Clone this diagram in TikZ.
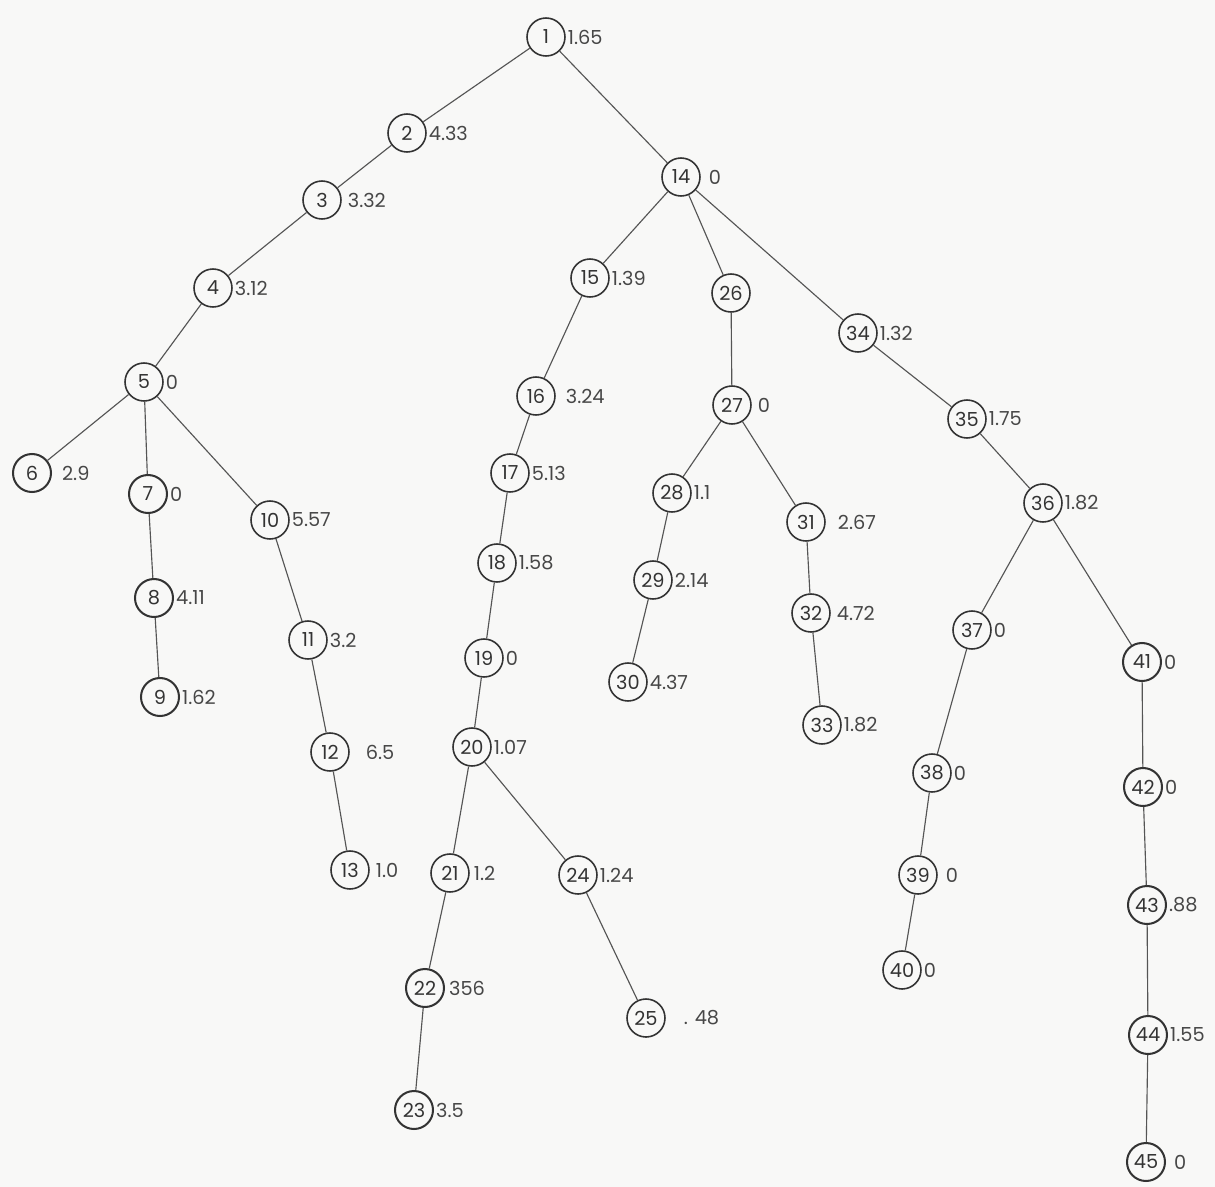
\documentclass[tikz,border=0pt]{standalone}
\usepackage{fontspec}
\setmainfont{Poppins}
\definecolor{ink}{HTML}{333333}
\definecolor{wire}{HTML}{555555}
\definecolor{paper}{HTML}{F8F8F7}
\begin{document}
\begin{tikzpicture}[x=0.02cm, y=-0.02cm,
  vertex/.style={circle, draw=ink, line width=0.9pt, minimum size=0.76cm, inner sep=0pt,
                 text=ink, font=\fontsize{11}{12}\selectfont},
  heavy/.style={line width=1.15pt},
  weight/.style={anchor=west, inner sep=1pt, text=ink!90, font=\fontsize{11}{12}\selectfont},
  edge/.style={draw=wire, line width=0.65pt}]
  \fill[paper] (0,0) rectangle (1215,1187);
  \useasboundingbox (0,0) rectangle (1215,1187);

  % vertices with their weights: number / x / y / weight / extra gap / outline
  \foreach \n/\x/\y/\w/\g/\s in {
      1/546/37/1.65/0/vertex, 2/407/133/4.33/0/vertex, 3/322/200/3.32/4/vertex,
      4/213/288/3.12/0/vertex, 5/144/382/0/0/vertex, 6/32/473/2.9/8/heavy,
      7/148/494/0/0/heavy, 8/154/598/4.11/0/heavy, 9/160/697/1.62/0/heavy,
      10/270/520/5.57/0/vertex, 11/308/640/3.2/0/vertex, 12/330/752/6.5/14/vertex,
      13/350/870/1.0/4/vertex, 14/681/177/0/6/vertex, 15/590/278/1.39/0/vertex,
      16/536/396/3.24/8/vertex, 17/510/473/5.13/0/vertex, 18/497/563/1.58/0/vertex,
      19/484/658/0/0/vertex, 20/472/747/1.07/0/vertex, 21/450/873/1.2/2/vertex,
      22/425/988/356/2/heavy, 23/414/1110/3.5/0/heavy, 24/578/875/1.24/0/vertex,
      25/646/1018/. 48/16/vertex, 27/732/405/0/4/vertex, 28/672/493/1.1/0/vertex,
      29/653/580/2.14/0/vertex, 30/628/682/4.37/0/vertex, 31/806/522/2.67/10/vertex,
      32/811/613/4.72/4/vertex, 33/822/725/1.82/0/vertex, 34/858/333/1.32/0/vertex,
      35/967/419/1.75/0/vertex, 36/1043/503/1.82/0/vertex, 37/972/630/0/0/vertex,
      38/932/773/0/0/vertex, 39/918/875/0/6/vertex, 40/902/970/0/0/vertex,
      41/1142/662/0/0/heavy, 42/1143/787/0/0/heavy, 43/1147/905/.88/0/heavy,
      44/1148/1035/1.55/0/heavy, 45/1146/1162/0/6/heavy}
  {
    \node[vertex, \s] (n\n) at (\x,\y) {\n};
    \node[weight, xshift=\g*0.02cm] (w\n) at (n\n.east) {\w};
  }
  \node[vertex] (n26) at (731,293) {26};

  % tree edges
  \foreach \a/\b in {1/2, 2/3, 3/4, 4/5, 5/6, 5/7, 5/10, 7/8, 8/9, 10/11, 11/12, 12/13,
                     1/14, 14/15, 14/26, 14/34, 15/16, 16/17, 17/18, 18/19, 19/20,
                     20/21, 20/24, 21/22, 22/23, 24/25, 26/27, 27/28, 27/31, 28/29,
                     29/30, 31/32, 32/33, 34/35, 35/36, 36/37, 36/41, 37/38, 38/39,
                     39/40, 41/42, 42/43, 43/44, 44/45}
    \draw[edge] (n\a) -- (n\b);
\end{tikzpicture}
\end{document}
